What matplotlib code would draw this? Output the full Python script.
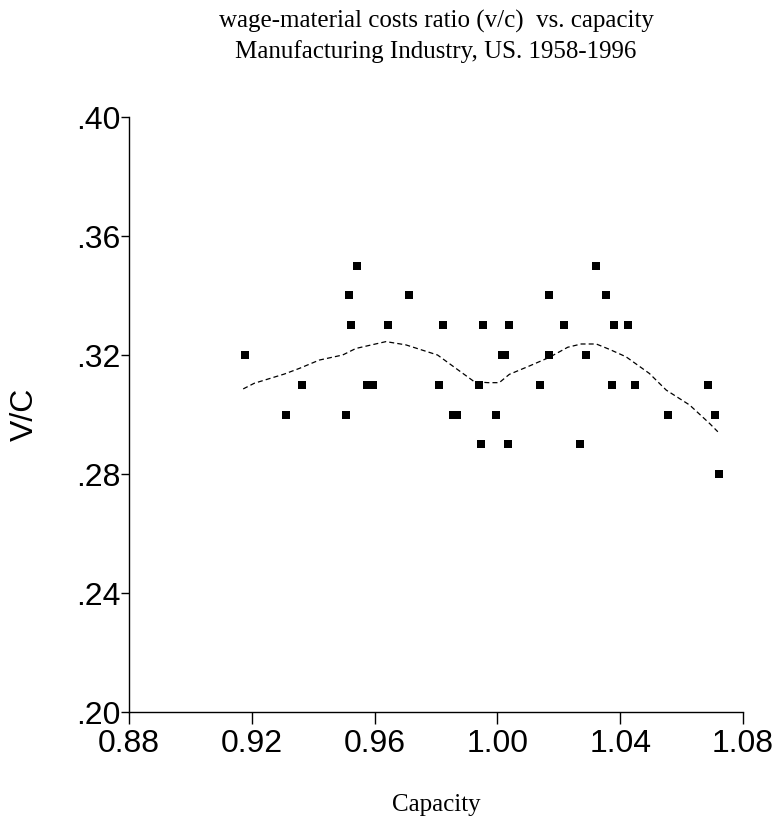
import numpy as np
import matplotlib
matplotlib.use("Agg")
import matplotlib.pyplot as plt

# capacity utilisation vs wage-material cost ratio, one point per year 1958-1996
capacity = [0.9178, 0.9542, 0.9516, 0.9711, 0.9524, 0.9644, 0.9824, 0.9952,
            0.9362, 0.9575, 0.9595, 0.9811, 0.9941, 0.9311, 0.9506, 0.9855,
            0.9870, 0.9995, 0.9946, 1.0322, 1.0168, 1.0353, 1.0038, 1.0218,
            1.0379, 1.0427, 1.0015, 1.0025, 1.0168, 1.0290, 1.0139, 1.0374,
            1.0447, 1.0686, 1.0556, 1.0708, 1.0036, 1.0269, 1.0723]
vc = [0.32, 0.35, 0.34, 0.34, 0.33, 0.33, 0.33, 0.33,
      0.31, 0.31, 0.31, 0.31, 0.31, 0.30, 0.30, 0.30,
      0.30, 0.30, 0.29, 0.35, 0.34, 0.34, 0.33, 0.33,
      0.33, 0.33, 0.32, 0.32, 0.32, 0.32, 0.31, 0.31,
      0.31, 0.31, 0.30, 0.30, 0.29, 0.29, 0.28]

# smoothed fit (dashed line)
fit_x = [0.9172, 0.9208, 0.9306, 0.9355, 0.9420, 0.9496, 0.9539, 0.9637,
         0.9702, 0.9805, 0.9865, 0.9925, 0.9970, 1.0006, 1.0039, 1.0104,
         1.0169, 1.0229, 1.0273, 1.0322, 1.0365, 1.0419, 1.0495, 1.0550,
         1.0626, 1.0691, 1.0718]
fit_y = [0.3086, 0.3105, 0.3136, 0.3155, 0.3183, 0.3200, 0.3222, 0.3245,
         0.3234, 0.3200, 0.3155, 0.3110, 0.3107, 0.3107, 0.3135, 0.3163,
         0.3192, 0.3226, 0.3237, 0.3237, 0.3219, 0.3194, 0.3138, 0.3082,
         0.3032, 0.2970, 0.2942]

xticks = [0.88, 0.92, 0.96, 1.00, 1.04, 1.08]
yticks = [0.20, 0.24, 0.28, 0.32, 0.36, 0.40]
ytick_labels = [".20", ".24", ".28", ".32", ".36", ".40"]

serif = ["Liberation Serif", "DejaVu Serif"]
sans = ["Liberation Sans", "DejaVu Sans"]

fig = plt.figure(figsize=(7.84, 8.22), dpi=100)
ax = fig.add_axes([129 / 784, 1 - 712 / 822, (743 - 129) / 784, (712 - 117) / 822])

ax.plot(fit_x, fit_y, color="black", lw=0.9, ls=(0, (4, 2.5)))
ax.scatter(capacity, vc, marker="s", s=36, color="black", linewidths=0, zorder=3)

ax.set_xlim(0.88, 1.08)
ax.set_ylim(0.20, 0.40)
ax.set_xticks(xticks)
ax.set_xticklabels(["%.2f" % t for t in xticks], family=sans, fontsize=23)
ax.set_yticks(yticks)
ax.set_yticklabels(ytick_labels, family=sans, fontsize=23)

for s in ["top", "right"]:
    ax.spines[s].set_visible(False)
for s in ["left", "bottom"]:
    ax.spines[s].set_linewidth(1.0)
ax.tick_params(axis="x", direction="out", length=8.5, width=1.0, pad=4)
ax.tick_params(axis="y", direction="out", length=5.5, width=1.0, pad=0.5)

cx = 436 / 784
fig.text(cx, 1 - 21 / 822, "wage-material costs ratio (v/c)  vs. capacity",
         ha="center", va="center", family=serif, fontsize=18)
fig.text(cx, 1 - 52 / 822, "Manufacturing Industry, US. 1958-1996",
         ha="center", va="center", family=serif, fontsize=18)
fig.text(25 / 784, 1 - 414 / 822, "V/C", rotation=90, ha="center", va="center",
         family=sans, fontsize=23)
fig.text(cx, 1 - 805 / 822, "Capacity", ha="center", va="center",
         family=serif, fontsize=18)

fig.savefig("out.png", dpi=100)
